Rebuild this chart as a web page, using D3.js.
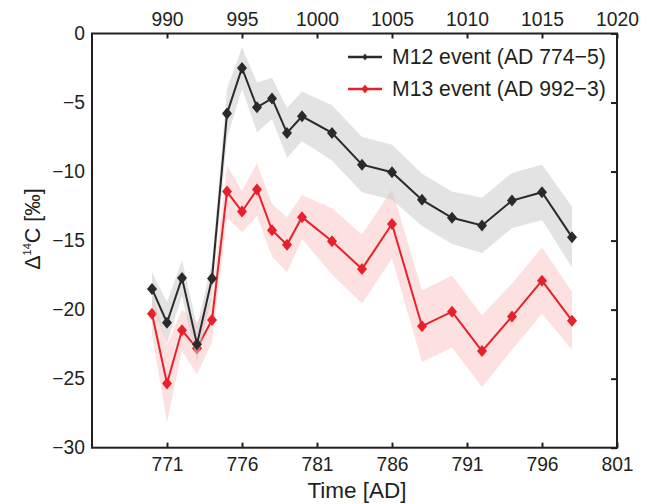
<!DOCTYPE html>
<html>
<head>
<meta charset="utf-8">
<script src="https://cdn.jsdelivr.net/npm/d3@7"></script>
<style>
  html, body { margin: 0; padding: 0; background: #fff; }
  svg { display: block; }
  text { font-family: "Liberation Sans", Arial, Helvetica, sans-serif; fill: #231f20; }
</style>
</head>
<body>
<svg id="chart" width="650" height="504"></svg>
<script>
// Tree-ring years (AD, relative to the M12 event) and the offset to the M13 timeline
const years = [770, 771, 772, 773, 774, 775, 776, 777, 778, 779, 780, 782, 784, 786, 788, 790, 792, 794, 796, 798];
const topOffset = 219; // 776 AD <-> 995 AD

// Delta 14C (permil) for each event, with its 1-sigma uncertainty
const m12 = [-18.5, -20.95, -17.7, -22.5, -17.75, -5.8, -2.5, -5.35, -4.7, -7.2, -6.0, -7.2, -9.5, -10.05, -12.05, -13.35, -13.9, -12.1, -11.5, -14.75];
const m12Err = [1.2, 1.5, 1.3, 1.3, 1.2, 1.8, 1.5, 1.8, 1.5, 1.8, 1.8, 2.0, 2.0, 2.0, 1.9, 1.9, 2.0, 2.0, 2.0, 2.2];
const m13 = [-20.3, -25.35, -21.5, -22.8, -20.75, -11.45, -12.9, -11.3, -14.25, -15.3, -13.3, -15.05, -17.05, -13.8, -21.2, -20.15, -23.0, -20.5, -17.9, -20.8];
const m13Err = [1.5, 2.8, 1.5, 1.9, 1.6, 1.9, 1.5, 1.9, 1.9, 2.0, 1.6, 2.4, 2.5, 2.5, 2.6, 2.6, 2.6, 2.4, 2.4, 2.1];

const bottomTicks = [771, 776, 781, 786, 791, 796, 801];
const topTicks = [990, 995, 1000, 1005, 1010, 1015, 1020];
const yTicks = [0, -5, -10, -15, -20, -25, -30];

const legendLabels = ["M12 event (AD 774\u22125)", "M13 event (AD 992\u22123)"];

const m = { left: 92, right: 617, top: 33.5, bottom: 447.7 };
const ink = "#231f20";
const black = "#2a2a2a", red = "#e8202a";

const svg = d3.select("#chart");
const x = d3.scaleLinear().domain([766, 801]).range([m.left, m.right]);
const xTop = d3.scaleLinear().domain([766 + topOffset, 801 + topOffset]).range([m.left, m.right]);
const y = d3.scaleLinear().domain([-30, 0]).range([m.bottom, m.top]);

const series = [
  { vals: m12, err: m12Err, color: black, band: "rgba(200,200,200,0.5)" },
  { vals: m13, err: m13Err, color: red, band: "#fde1e1" }
];

const area = d3.area().x(d => x(d.t)).y0(d => y(d.v - d.e)).y1(d => y(d.v + d.e));
const line = d3.line().x(d => x(d.t)).y(d => y(d.v));
const diamond = (w, h) => `M0,${-h / 2}L${w / 2},0L0,${h / 2}L${-w / 2},0Z`;

function rows(s) { return years.map((t, i) => ({ t, v: s.vals[i], e: s.err[i] })); }

// Red series first, so the translucent grey band sits over it
[series[1], series[0]].forEach(s => {
  const d = rows(s);
  const g = svg.append("g");
  g.append("path").attr("d", area(d)).attr("fill", s.band);
  g.append("path").attr("d", line(d)).attr("fill", "none").attr("stroke", s.color).attr("stroke-width", 2);
  g.selectAll("path.pt").data(d).join("path").attr("class", "pt")
    .attr("d", diamond(10, 12))
    .attr("transform", p => `translate(${x(p.t)},${y(p.v)})`)
    .attr("fill", s.color);
});

// Axes
const fontTick = "19.3px";
const bAxis = d3.axisBottom(x).tickValues(bottomTicks).tickSizeInner(-5).tickSizeOuter(0).tickPadding(10).tickFormat(d3.format("d"));
const tAxis = d3.axisTop(xTop).tickValues(topTicks).tickSizeInner(-5).tickSizeOuter(0).tickPadding(8).tickFormat(d3.format("d"));
const lAxis = d3.axisLeft(y).tickValues(yTicks).tickSize(0).tickPadding(7).tickFormat(d3.format("d"));
const rAxis = d3.axisRight(y).tickValues(yTicks).tickSizeInner(-6).tickSizeOuter(0).tickFormat("");

function style(g) {
  g.select(".domain").remove();
  g.selectAll(".tick line").attr("stroke", ink).attr("stroke-width", 2);
  g.selectAll(".tick text").attr("font-size", fontTick).style("fill", ink);
}
svg.append("g").attr("transform", `translate(0,${m.bottom})`).call(bAxis).call(style);
svg.append("g").attr("transform", `translate(0,${m.top})`).call(tAxis).call(style);
svg.append("g").attr("transform", `translate(${m.left},0)`).call(lAxis).call(style);
svg.append("g").attr("transform", `translate(${m.right},0)`).call(rAxis).call(style);
svg.selectAll(".tick text").attr("font-family", "'Liberation Sans', Arial, sans-serif");

// Frame
svg.append("rect").attr("x", m.left).attr("y", m.top)
  .attr("width", m.right - m.left).attr("height", m.bottom - m.top)
  .attr("fill", "none").attr("stroke", ink).attr("stroke-width", 2);

// Axis titles
svg.append("text").attr("x", 357).attr("y", 498).attr("text-anchor", "middle")
  .attr("font-size", "22.5px").text("Time [AD]");

const yl = svg.append("text").attr("transform", "translate(40,229) rotate(-90)")
  .attr("text-anchor", "middle").attr("font-size", "21.5px");
yl.append("tspan").text("\u0394");
yl.append("tspan").attr("font-size", "11px").attr("dy", "-9").text("14");
yl.append("tspan").attr("dy", "9").text("C [\u2030]");

// Legend
const lg = svg.append("g");
legendLabels.forEach((lab, i) => {
  const s = series[i];
  const ly = 57 + i * 32;
  lg.append("line").attr("x1", 348).attr("x2", 382).attr("y1", ly).attr("y2", ly)
    .attr("stroke", s.color).attr("stroke-width", 2.6);
  lg.append("path").attr("d", i === 0 ? diamond(5, 7) : diamond(7, 9))
    .attr("transform", `translate(365,${ly})`).attr("fill", s.color);
  lg.append("text").attr("x", 392).attr("y", ly + 7).attr("font-size", "21.2px").text(lab);
});
</script>
</body>
</html>
